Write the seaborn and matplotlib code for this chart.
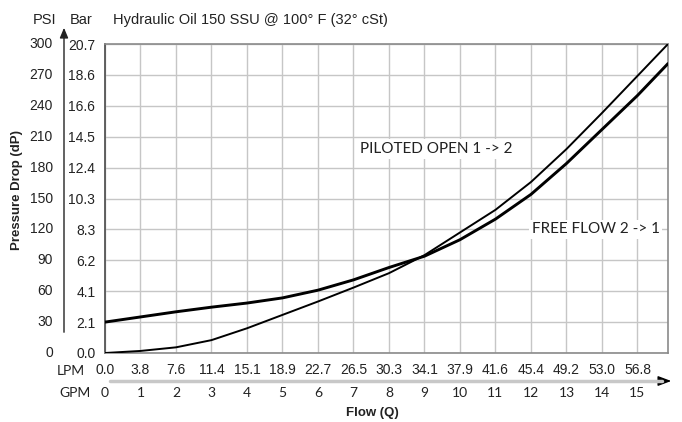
import numpy as np
import pandas as pd
import matplotlib
matplotlib.use('Agg')
import matplotlib.pyplot as plt
import matplotlib.transforms as mtransforms
from matplotlib.lines import Line2D
import seaborn as sns

# valores (GPM x PSI)
gpm = [0, 1, 2, 3, 4, 5, 6, 7, 8, 9, 10, 11, 12, 13, 14, 15, 15.86]
piloted_psi = [0, 2, 5.5, 12.5, 24, 37, 50, 63.5, 77.5, 95, 117, 139, 166, 198, 233, 269, 300]
free_psi = [30, 35, 40, 44.5, 48.5, 53.5, 61, 71, 83, 94, 110, 130, 154, 184, 217, 250, 281]

gpm_ticks = list(range(16))
lpm_labels = ['0.0', '3.8', '7.6', '11.4', '15.1', '18.9', '22.7', '26.5', '30.3', '34.1',
              '37.9', '41.6', '45.4', '49.2', '53.0', '56.8']
psi_ticks = [0, 30, 60, 90, 120, 150, 180, 210, 240, 270, 300]
bar_labels = ['0.0', '2.1', '4.1', '6.2', '8.3', '10.3', '12.4', '14.5', '16.6', '18.6', '20.7']

df = pd.DataFrame({'GPM': gpm, 'Piloted': piloted_psi, 'Free': free_psi})

sns.set_style('white')
plt.rcParams['font.family'] = ['Liberation Sans', 'DejaVu Sans']

W, H = 682, 422
fig = plt.figure(figsize=(W / 100, H / 100), dpi=100)
ax = fig.add_axes([105 / W, 1 - 353 / H, (668 - 105) / W, (353 - 44) / H])

sns.lineplot(data=df, x='GPM', y='Piloted', ax=ax, color='black', linewidth=1.4, zorder=3)
sns.lineplot(data=df, x='GPM', y='Free', ax=ax, color='black', linewidth=2.1, zorder=3)

ax.set_xlim(0, 15.86)
ax.set_ylim(0, 300)
ax.set_xticks(gpm_ticks)
ax.set_xticklabels(lpm_labels)
ax.set_yticks(psi_ticks)
ax.set_yticklabels(bar_labels)
ax.grid(True, color='#c6c6c6', linewidth=1)
ax.tick_params(axis='both', length=4, color='#a0a0a0', labelsize=10, labelcolor='#222222')
ax.tick_params(axis='x', pad=3)
ax.tick_params(axis='y', pad=3)
ax.set_xlabel('')
ax.set_ylabel('')
for s in ['top', 'right', 'bottom']:
    ax.spines[s].set_color('#8a8a8a')
    ax.spines[s].set_linewidth(1.2)
ax.spines['left'].set_color('#555555')
ax.spines['left'].set_linewidth(1.3)

# rotulos PSI (lado esquerdo) e GPM (abaixo)
tr_y = mtransforms.blended_transform_factory(fig.transFigure, ax.transData)
for v in psi_ticks:
    fig.text(53 / W, v, str(v), transform=tr_y, ha='right', va='center', fontsize=10, color='#222222')
tr_x = mtransforms.blended_transform_factory(ax.transData, fig.transFigure)
for g in gpm_ticks:
    fig.text(g, 1 - 393 / H, str(g), transform=tr_x, ha='center', va='center',
             fontsize=10, color='#222222', family=['Lato', 'DejaVu Sans'])

fig.text(71 / W, 1 - 371 / H, 'LPM', ha='center', va='center', fontsize=10,
         color='#222222', family=['Lato', 'DejaVu Sans'])
fig.text(75 / W, 1 - 393 / H, 'GPM', ha='center', va='center', fontsize=10,
         color='#222222', family=['Lato', 'DejaVu Sans'])

# cabecalho
fig.text(33 / W, 1 - 20 / H, 'PSI', ha='left', va='center', fontsize=10.5, color='#222222')
fig.text(70 / W, 1 - 20 / H, 'Bar', ha='left', va='center', fontsize=10.5, color='#222222')
fig.text(113 / W, 1 - 20 / H, 'Hydraulic Oil 150 SSU @ 100° F (32° cSt)', ha='left', va='center',
         fontsize=10.5, color='#222222')

fig.text(17 / W, 1 - 190 / H, 'Pressure Drop (dP)', rotation=90, ha='center', va='center',
         fontsize=9.5, fontweight='bold', color='#222222')
fig.text(372 / W, 1 - 413 / H, 'Flow (Q)', ha='center', va='center',
         fontsize=9.5, fontweight='bold', color='#222222')

# setas dos eixos
fig.add_artist(Line2D([110 / W, 662 / W], [1 - 381 / H, 1 - 381 / H], transform=fig.transFigure,
                      color='#c8c8c8', linewidth=2.5))
ax.annotate('', xy=(674 / W, 1 - 381 / H), xytext=(660 / W, 1 - 381 / H), xycoords='figure fraction',
            arrowprops=dict(arrowstyle='-|>,head_length=0.8,head_width=0.3', color='black', lw=1))
ax.annotate('', xy=(64 / W, 1 - 25 / H), xytext=(64 / W, 1 - 335 / H), xycoords='figure fraction',
            arrowprops=dict(arrowstyle='-|>,head_length=0.6,head_width=0.25', color='#222222', lw=1))

# anotacoes das curvas
box = dict(facecolor='white', edgecolor='none', pad=2)
ax.text(9.34, 198, 'PILOTED OPEN 1 -> 2', ha='center', va='center', fontsize=11,
        family=['Lato', 'DejaVu Sans'], color='#222222', bbox=box, zorder=4)
ax.text(13.82, 120, 'FREE FLOW 2 -> 1', ha='center', va='center', fontsize=11,
        family=['Lato', 'DejaVu Sans'], color='#222222', bbox=box, zorder=4)

fig.savefig('out.png', dpi=100)
